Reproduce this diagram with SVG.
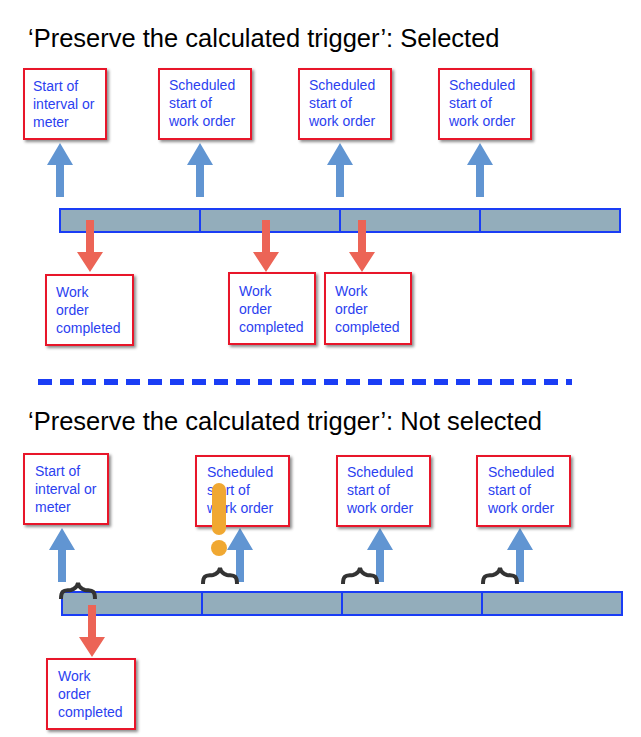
<svg xmlns="http://www.w3.org/2000/svg" width="641" height="737" viewBox="0 0 641 737">
<defs>
<filter id="sh" x="-10%" y="-10%" width="130%" height="130%"><feDropShadow dx="2" dy="2" stdDeviation="1.5" flood-color="#000" flood-opacity="0.45"/></filter>
<g id="up"><path d="M-4,0 V-32 H-13 L0,-54 L13,-32 H4 V0 Z" fill="#6195d2"/></g>
<g id="down"><path d="M-4,0 V32 H-13 L0,52 L13,32 H4 V0 Z" fill="#ec6456"/></g>
<path id="brace" d="M0,16 C0,6 4,8 10,7 C14,6 16,4 17,0 C18,4 20,6 24,7 C30,8 34,6 34,16" fill="none" stroke="#333" stroke-width="4"/>
</defs>
<style>
.title{font-family:"Liberation Sans",Arial,sans-serif;font-size:25.5px;fill:#000}
.box{fill:#fff;stroke:#e8192c;stroke-width:2;filter:url(#sh)}
.t{font-family:"Liberation Sans",Arial,sans-serif;font-size:14px;fill:#2b3ff0}
.bar{fill:#93adbb;stroke:#1a3df5;stroke-width:2}
.div{stroke:#1a3df5;stroke-width:2}
</style>
<text class="title" x="28" y="47">‘Preserve the calculated trigger’: Selected</text>
<text class="title" x="28" y="430">‘Preserve the calculated trigger’: Not selected</text>
<g id="bar1"><rect class="bar" x="60" y="209" width="560" height="23"/><line class="div" x1="200" y1="209" x2="200" y2="232"/><line class="div" x1="340" y1="209" x2="340" y2="232"/><line class="div" x1="480" y1="209" x2="480" y2="232"/></g>
<g id="dash"><line x1="38" y1="382" x2="572" y2="382" stroke="#1a3df5" stroke-width="6" stroke-dasharray="14,8"/></g>
<g id="bar2"><rect class="bar" x="62" y="592" width="560" height="23"/><line class="div" x1="202" y1="592" x2="202" y2="615"/><line class="div" x1="342" y1="592" x2="342" y2="615"/><line class="div" x1="482" y1="592" x2="482" y2="615"/></g>
<g id="connectors">
<use href="#up" x="60" y="197"/><use href="#up" x="200" y="197"/><use href="#up" x="340" y="197"/><use href="#up" x="480" y="197"/>
<use href="#down" x="90" y="220"/><use href="#down" x="266" y="220"/><use href="#down" x="362" y="220"/>
<use href="#up" x="62" y="582"/><use href="#up" x="240" y="582"/><use href="#up" x="380" y="582"/><use href="#up" x="520" y="582"/>
<use href="#down" x="92" y="605"/>
</g>
<g id="n1"><rect class="box" x="24" y="69" width="82" height="70"/><text class="t" x="33" y="91">Start of</text><text class="t" x="33" y="109">interval or</text><text class="t" x="33" y="127">meter</text></g>
<g id="n2"><rect class="box" x="159" y="69" width="92" height="70"/><text class="t" x="169" y="90">Scheduled</text><text class="t" x="169" y="108">start of</text><text class="t" x="169" y="126">work order</text></g>
<g id="n3"><rect class="box" x="299" y="69" width="92" height="70"/><text class="t" x="309" y="90">Scheduled</text><text class="t" x="309" y="108">start of</text><text class="t" x="309" y="126">work order</text></g>
<g id="n4"><rect class="box" x="439" y="69" width="92" height="70"/><text class="t" x="449" y="90">Scheduled</text><text class="t" x="449" y="108">start of</text><text class="t" x="449" y="126">work order</text></g>
<g id="n5"><rect class="box" x="46" y="275" width="87" height="70"/><text class="t" x="56" y="297">Work</text><text class="t" x="56" y="315">order</text><text class="t" x="56" y="333">completed</text></g>
<g id="n6"><rect class="box" x="229" y="273" width="86" height="71"/><text class="t" x="239" y="296">Work</text><text class="t" x="239" y="314">order</text><text class="t" x="239" y="332">completed</text></g>
<g id="n7"><rect class="box" x="325" y="273" width="86" height="71"/><text class="t" x="335" y="296">Work</text><text class="t" x="335" y="314">order</text><text class="t" x="335" y="332">completed</text></g>
<g id="m1"><rect class="box" x="24" y="454" width="84" height="70"/><text class="t" x="35" y="476">Start of</text><text class="t" x="35" y="494">interval or</text><text class="t" x="35" y="512">meter</text></g>
<g id="m2"><rect class="box" x="196" y="456" width="93" height="70"/><text class="t" x="207" y="477">Scheduled</text><text class="t" x="207" y="495">start of</text><text class="t" x="207" y="513">work order</text></g>
<g id="m3"><rect class="box" x="337" y="456" width="93" height="70"/><text class="t" x="347" y="477">Scheduled</text><text class="t" x="347" y="495">start of</text><text class="t" x="347" y="513">work order</text></g>
<g id="m4"><rect class="box" x="477" y="456" width="93" height="70"/><text class="t" x="488" y="477">Scheduled</text><text class="t" x="488" y="495">start of</text><text class="t" x="488" y="513">work order</text></g>
<g id="m5"><rect class="box" x="47" y="659" width="88" height="70"/><text class="t" x="58" y="681">Work</text><text class="t" x="58" y="699">order</text><text class="t" x="58" y="717">completed</text></g>
<g id="braces">
<use href="#brace" x="61" y="583"/><use href="#brace" x="203" y="568"/><use href="#brace" x="343" y="568"/><use href="#brace" x="483" y="568"/>
</g>
<g id="excl"><line x1="219" y1="490" x2="219" y2="528" stroke="#f0a832" stroke-width="14" stroke-linecap="round"/><circle cx="219" cy="548" r="8" fill="#f0a832"/></g>
</svg>
